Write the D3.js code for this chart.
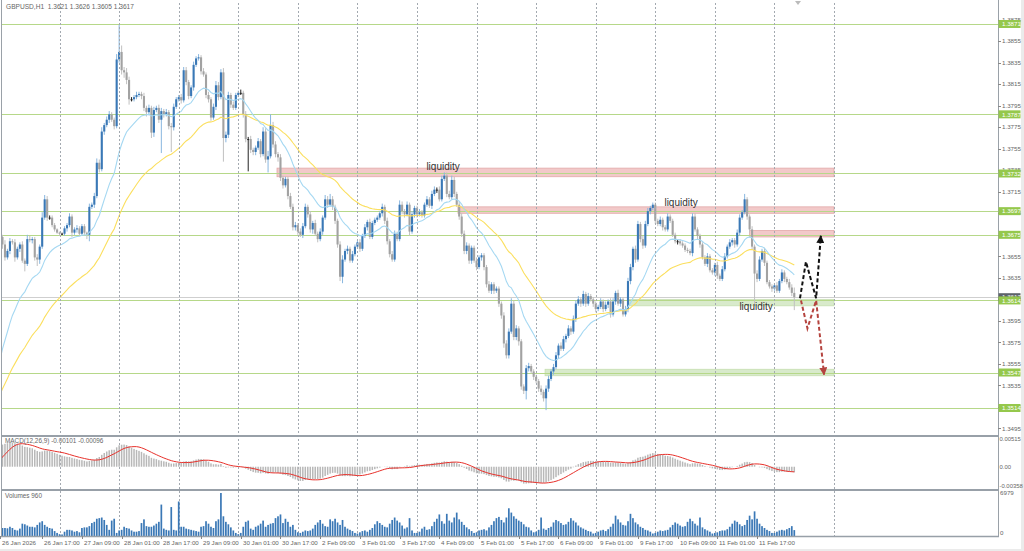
<!DOCTYPE html>
<html><head><meta charset="utf-8">
<script src="https://cdn.jsdelivr.net/npm/d3@7"></script>
<style>html,body{margin:0;padding:0;background:#fff;overflow:hidden}svg{display:block}</style>
</head><body>
<svg id="c" width="1024" height="551"></svg>
<script>
// ---------------- DATA ----------------
const titleText = "GBPUSD,H1  1.3621 1.3626 1.3605 1.3617";
const macdTitle = "MACD(12,26,9) -0.00101 -0.00096";
const volTitle = "Volumes 960";
const firstOpen = 1.3668;
// closes before the visible window (only used to warm up the moving averages / MACD)
const preCloses = [1.3492,1.3488,1.3493,1.3490,1.3487,1.3491,1.3495,1.3493,1.3489,1.3492,1.3496,1.3500,1.3498,1.3494,1.3497,1.3501,1.3499,1.3502,1.3505,1.3502,1.3498,1.3500,1.3503,1.3506,1.3504,1.3501,1.3499,1.3502,1.3505,1.3508,1.3506,1.3503,1.3501,1.3504,1.3507,1.3510,1.3508,1.3505,1.3502,1.3500,1.3498,1.3501,1.3504,1.3502,1.3499,1.3497,1.3500,1.3503,1.3499,1.3496,1.3494,1.3497,1.3495,1.3498,1.3515,1.3540,1.3585,1.3620,1.3645,1.3665];
const closes = [
1.3673,1.3666,1.3654,1.3660,1.3669,1.3668,1.3654,1.3662,1.3666,1.3651,1.3648,1.3671,1.3670,1.3671,1.3654,1.3652,1.3664,1.3691,1.3708,1.3691,1.3691,1.3684,1.3680,1.3677,
1.3676,1.3676,1.3681,1.3684,1.3692,1.3677,1.3680,1.3681,1.3676,1.3683,1.3677,1.3675,1.3701,1.3703,1.3711,1.3742,1.3736,1.3771,1.3777,1.3782,1.3787,1.3782,1.3776,1.3838,
1.3845,1.3828,1.3826,1.3819,1.3801,1.3801,1.3803,1.3805,1.3806,1.3804,1.3793,1.3789,1.3793,1.3770,1.3791,1.3793,1.3782,1.3790,1.3787,1.3789,1.3776,1.3775,1.3794,1.3801,
1.3803,1.3800,1.3828,1.3817,1.3804,1.3812,1.3833,1.3839,1.3840,1.3827,1.3824,1.3805,1.3801,1.3784,1.3794,1.3814,1.3803,1.3826,1.3765,1.3768,1.3805,1.3796,1.3793,1.3805,
1.3807,1.3807,1.3787,1.3764,1.3764,1.3754,1.3752,1.3756,1.3762,1.3750,1.3771,1.3745,1.3748,1.3777,1.3759,1.3750,1.3747,1.3728,1.3721,1.3727,1.3711,1.3701,1.3682,1.3684,
1.3678,1.3675,1.3683,1.3701,1.3694,1.3680,1.3686,1.3676,1.3671,1.3678,1.3691,1.3708,1.3703,1.3708,1.3701,1.3688,1.3666,1.3636,1.3652,1.3660,1.3662,1.3651,1.3657,1.3664,
1.3668,1.3662,1.3674,1.3682,1.3687,1.3673,1.3686,1.3689,1.3691,1.3695,1.3701,1.3688,1.3669,1.3657,1.3652,1.3676,1.3671,1.3703,1.3697,1.3694,1.3703,1.3678,1.3694,1.3700,
1.3694,1.3696,1.3693,1.3703,1.3708,1.3702,1.3713,1.3717,1.3717,1.3708,1.3727,1.3730,1.3713,1.3710,1.3726,1.3713,1.3703,1.3692,1.3676,1.3660,1.3665,1.3651,1.3663,1.3651,
1.3645,1.3654,1.3656,1.3645,1.3629,1.3623,1.3629,1.3623,1.3625,1.3611,1.3600,1.3574,1.3563,1.3585,1.3611,1.3580,1.3588,1.3576,1.3534,1.3530,1.3551,1.3553,1.3548,1.3543,
1.3539,1.3532,1.3529,1.3523,1.3532,1.3541,1.3548,1.3552,1.3563,1.3572,1.3569,1.3578,1.3581,1.3588,1.3585,1.3597,1.3611,1.3615,1.3611,1.3620,1.3611,1.3618,1.3615,1.3611,
1.3606,1.3608,1.3613,1.3606,1.3610,1.3613,1.3601,1.3613,1.3621,1.3611,1.3615,1.3601,1.3606,1.3632,1.3645,1.3662,1.3652,1.3685,1.3671,1.3665,1.3685,1.3697,1.3700,1.3703,
1.3688,1.3685,1.3689,1.3682,1.3680,1.3692,1.3688,1.3675,1.3669,1.3669,1.3667,1.3665,1.3661,1.3660,1.3658,1.3692,1.3680,1.3674,1.3666,1.3654,1.3648,1.3655,1.3642,1.3640,
1.3647,1.3637,1.3634,1.3643,1.3655,1.3664,1.3668,1.3670,1.3666,1.3677,1.3691,1.3696,1.3708,1.3692,1.3680,1.3664,1.3639,1.3634,1.3652,1.3660,1.3649,1.3631,1.3627,1.3625,
1.3628,1.3623,1.3632,1.3640,1.3634,1.3631,1.3626,1.3621,1.3617];
// wick length above / below the body, in pips
const hiExt = [
3,2,4,2,3,2,3,2,2,3,2,4,3,2,2,3,2,5,4,3,2,2,2,1,
1,1,2,2,3,2,2,3,2,2,2,1,3,2,3,4,3,4,2,3,3,2,2,5,
25,6,3,4,3,2,2,3,2,2,3,2,3,2,3,2,3,3,2,3,2,3,3,2,
2,3,3,3,2,2,3,2,3,2,3,2,3,2,3,4,3,3,4,3,3,2,3,2,
2,3,2,3,2,3,2,2,3,2,4,3,5,10,3,3,2,3,2,2,2,3,3,3,
2,3,3,3,2,3,2,3,2,3,2,4,3,5,3,2,2,3,4,2,3,2,3,2,
2,3,2,3,2,3,2,2,2,2,3,2,3,2,3,3,2,4,3,2,3,2,3,2,
2,3,2,2,3,2,3,3,2,3,3,3,3,3,4,3,2,3,3,3,3,2,2,2,
3,2,2,2,2,3,2,2,2,2,2,3,3,3,5,3,3,2,2,2,3,3,2,2,
2,2,3,2,3,3,2,3,3,2,3,3,2,3,2,3,3,3,2,3,2,3,2,2,
2,2,3,2,3,2,3,3,2,3,2,2,3,3,3,2,3,3,2,3,3,3,2,2,
2,2,3,2,2,3,2,2,2,2,2,2,2,2,2,3,3,2,2,2,2,3,2,2,
2,3,2,3,3,2,3,2,2,3,3,2,5,2,2,3,2,3,3,2,3,2,2,2,
2,3,2,3,2,2,3,3,5];
const loExt = [
2,4,3,2,3,2,4,2,3,2,7,2,2,3,3,6,4,2,2,3,2,2,2,1,
2,1,2,3,2,4,2,3,2,2,2,4,6,2,3,2,3,2,3,2,3,2,3,2,
3,4,5,4,5,2,2,2,2,3,3,4,3,5,4,2,3,31,3,2,3,23,3,2,
2,3,2,3,3,2,3,2,2,3,2,3,3,3,2,3,3,2,22,4,3,3,2,2,
2,2,3,3,30,3,3,3,2,3,2,3,12,2,3,3,4,3,3,2,3,2,3,3,
3,2,3,2,3,3,4,2,3,2,3,2,3,2,3,3,3,4,6,2,3,2,2,2,
2,3,2,2,3,2,2,2,2,2,3,3,3,3,2,2,2,2,3,3,2,4,2,3,
3,2,2,2,2,2,3,2,3,2,2,2,3,2,2,3,2,3,3,3,3,3,3,2,
3,2,3,3,3,2,3,3,2,3,3,4,3,3,2,3,3,4,3,3,8,3,2,3,
2,3,3,3,11,3,2,3,2,3,2,2,3,2,3,2,3,2,3,2,3,2,2,3,
3,2,2,3,2,3,3,2,3,2,3,2,2,3,3,3,3,2,3,3,2,2,3,2,
3,2,2,3,2,2,2,2,2,3,2,2,2,2,2,3,2,3,3,2,2,3,2,2,
3,3,2,2,2,2,2,3,3,2,3,2,2,3,3,3,30,3,2,2,3,2,2,3,
2,2,2,2,3,2,2,3,12];
const volumes = [
1300,1300,1300,1250,1500,1300,1000,900,1200,2000,1900,1700,1500,1500,1400,1800,2200,2400,1800,1500,1300,1200,800,500,
300,250,700,1000,1000,900,700,800,600,1300,1400,1400,1600,2100,2300,2800,2900,3000,2600,1800,1000,2500,2800,500,
900,1000,1500,1300,1200,900,700,700,800,2100,2700,1600,1500,1500,1700,2000,2300,5100,1200,1000,900,4700,1000,900,
5600,1500,1500,1200,1100,1000,900,800,700,1500,1600,2400,2000,1500,1300,2400,2700,6979,3200,2300,1900,1400,900,500,
300,500,1500,2300,2500,1200,1000,1500,1700,2000,2500,1500,1800,2000,2100,2900,3200,3500,2100,2800,2300,1500,1800,1000,
600,500,700,900,800,900,1200,1800,2200,2600,2000,1600,1500,2700,2400,2800,2200,1800,2600,1500,1200,1000,800,500,
400,600,800,900,700,1000,1300,1900,2400,2100,1800,1500,1400,2000,2600,3000,2500,2200,1700,1200,1400,2900,900,500,
500,700,1200,1500,1000,1100,1600,2300,2800,3500,2400,2000,3600,2500,2200,3000,3800,2700,2300,1800,1400,1100,800,500,
600,900,1000,1100,900,1400,1800,2400,2900,3100,2600,2200,3000,4500,3800,3200,2800,2500,2300,1900,1500,1400,900,600,
700,1000,3000,1200,1000,1300,1500,2200,2600,2400,2100,1800,1900,2300,2900,2500,2200,1700,1400,1200,1000,800,700,400,
500,700,900,1000,800,1100,1500,2000,3300,2700,2200,1800,1700,2400,3600,2900,2200,1900,1500,1300,1000,900,700,400,
500,700,900,800,900,1000,1400,1800,2200,2000,1700,1500,1600,2300,2800,2400,2000,1700,3000,1400,1100,900,700,400,
500,600,800,900,900,1100,1500,2000,2500,2300,1900,1600,1800,2600,3300,2700,4000,2800,2000,1600,1300,1000,800,500,
500,700,900,1000,900,1100,1300,1600,960];
const priceTicks = [1.3875,1.3855,1.3835,1.3815,1.3795,1.3775,1.3755,1.3735,1.3715,1.3695,1.3675,1.3655,1.3635,1.3615,1.3595,1.3575,1.3555,1.3535,1.3515,1.3495];
const levels = [1.3871,1.3787,1.3732,1.3697,1.3675,1.3614,1.3547,1.3514];
const currentPrice = 1.3617;
const macdTicks = [0.00515, 0, -0.00358];
const volTicks = [6979, 0];
const timeLabels = [[0,"26 Jan 2026"],[17,"26 Jan 17:00"],[33,"27 Jan 09:00"],[49,"28 Jan 01:00"],[65,"28 Jan 17:00"],[81,"29 Jan 09:00"],[97,"30 Jan 01:00"],[113,"30 Jan 17:00"],[129,"2 Feb 09:00"],[145,"3 Feb 01:00"],[161,"3 Feb 17:00"],[177,"4 Feb 09:00"],[193,"5 Feb 01:00"],[209,"5 Feb 17:00"],[225,"6 Feb 09:00"],[241,"9 Feb 01:00"],[257,"9 Feb 17:00"],[273,"10 Feb 09:00"],[289,"11 Feb 01:00"],[305,"11 Feb 17:00"]];
const dayStarts = [24,48,72,96,120,144,168,192,216,240,264,288,312,336];
// zones: [startBar, endBar, lowPrice, highPrice]
const resistZones = [[111.6,336,1.3729,1.3737],[184.5,336,1.3695,1.3701],[302,336,1.3673,1.3679]];
const supportZones = [[253,336,1.3609,1.3615],[219.6,336,1.3544,1.3550]];
const notes = [[178.5,1.37355,"liquidity"],[274.4,1.3702,"liquidity"],[304.6,1.3605,"liquidity"]];
const bullPath = [[322.3,1.3616],[324.7,1.3650],[328.8,1.3616],[330.7,1.3674]];
const bearPath = [[322.7,1.3614],[325.3,1.3588],[328.8,1.3614],[332.0,1.3545]];

// ---------------- LAYOUT ----------------
const svg = d3.select("#c");
const plotR = 998, mainT = 3, mainB = 435, macdT = 437, macdB = 489, volT = 491, volB = 536;
const x = d3.scaleLinear().domain([0, 336]).range([0, 834]);
const y = d3.scaleLinear().domain([1.34889, 1.38905]).range([mainB, mainT]);
const ym = d3.scaleLinear().domain([-0.00358, 0.00515]).range([486, 439]);
const yv = d3.scaleLinear().domain([0, 6979]).range([volB, 493]);
const FONT = "Liberation Sans, Arial, sans-serif";

svg.append("rect").attr("width",1024).attr("height",551).attr("fill","#fff");
svg.append("rect").attr("x",1021).attr("y",0).attr("width",3).attr("height",551).attr("fill","#ebebeb");
svg.append("rect").attr("x",0).attr("y",549).attr("width",1024).attr("height",2).attr("fill","#ebebeb");

const defs = svg.append("defs");
[["cm",mainT,mainB],["cmacd",macdT,macdB],["cvol",volT,volB]].forEach(([id,t,b])=>{
  defs.append("clipPath").attr("id",id).append("rect").attr("x",1).attr("y",t).attr("width",plotR-1).attr("height",b-t);
});

// computed series
const N = closes.length, P = preCloses.length;
const bars = closes.map((c,i)=>{
  const o = i ? closes[i-1] : firstOpen;
  return {i,o,c,h:Math.max(o,c)+hiExt[i]*1e-4,l:Math.min(o,c)-loExt[i]*1e-4,v:volumes[i]};
});
const all = preCloses.concat(closes);
function ema(arr,n){const a=2/(n+1);let e=arr[0];return arr.map((v,i)=>(e=i?a*v+(1-a)*e:v));}
const e12 = ema(all,12), e26 = ema(all,26);
const macdAll = all.map((v,i)=>e12[i]-e26[i]);
const sigAll = macdAll.map((v,i)=>d3.mean(macdAll.slice(Math.max(0,i-8),i+1)));
const maFast = ema(all,20).slice(P), maSlow = ema(all,50).slice(P);
const macd = macdAll.slice(P), signal = sigAll.slice(P);

// ---------- main panel ----------
const gm = svg.append("g").attr("clip-path","url(#cm)");
resistZones.forEach(z=>gm.append("rect").attr("x",x(z[0])).attr("width",x(z[1])-x(z[0]))
  .attr("y",y(z[3])).attr("height",y(z[2])-y(z[3])).attr("fill","#f2c9c9").attr("stroke","#e3a9a9").attr("stroke-width",0.8));
supportZones.forEach(z=>gm.append("rect").attr("x",x(z[0])).attr("width",x(z[1])-x(z[0]))
  .attr("y",y(z[3])).attr("height",y(z[2])-y(z[3])).attr("fill","#d8eacb").attr("stroke","#c6dfb0").attr("stroke-width",0.8));
svg.append("g").selectAll("line").data(dayStarts).join("line")
  .attr("x1",d=>Math.round(x(d))+0.5).attr("x2",d=>Math.round(x(d))+0.5).attr("y1",mainT).attr("y2",volB)
  .attr("stroke","#a3a9b0").attr("stroke-width",1).attr("stroke-dasharray","2,2");
gm.selectAll(".lv").data(levels).join("line").attr("class","lv")
  .attr("x1",1).attr("x2",plotR).attr("y1",d=>Math.round(y(d))+0.5).attr("y2",d=>Math.round(y(d))+0.5)
  .attr("stroke","#b6d889").attr("stroke-width",1);
gm.append("line").attr("x1",1).attr("x2",plotR).attr("y1",Math.round(y(currentPrice))+0.5).attr("y2",Math.round(y(currentPrice))+0.5)
  .attr("stroke","#cfcfcf").attr("stroke-width",1);
// candles
const bw = 2.1;
const cg = gm.append("g");
cg.selectAll(".wk").data(bars).join("line").attr("class","wk")
  .attr("x1",d=>x(d.i)).attr("x2",d=>x(d.i)).attr("y1",d=>y(d.h)).attr("y2",d=>y(d.l))
  .attr("stroke",d=>Math.abs(d.c-d.o)<1e-9?"#222":(d.c>d.o?"#88b6df":"#c0c0c0")).attr("stroke-width",1);
cg.selectAll(".bd").data(bars).join("rect").attr("class","bd")
  .attr("x",d=>x(d.i)-bw/2).attr("width",bw)
  .attr("y",d=>y(Math.max(d.o,d.c))).attr("height",d=>Math.max(1,Math.abs(y(d.o)-y(d.c))))
  .attr("fill",d=>Math.abs(d.c-d.o)<1e-9?"#222":(d.c>d.o?"#3a78b6":"#a2a2a2"));
// moving averages
const lineGen = arr=>d3.line().x((d,i)=>x(i)).y(d=>y(d))(arr);
gm.append("path").attr("d",lineGen(maSlow)).attr("fill","none").attr("stroke","#fbdf5e").attr("stroke-width",1.1);
gm.append("path").attr("d",lineGen(maFast)).attr("fill","none").attr("stroke","#a5d8f2").attr("stroke-width",1.1);
// notes
gm.selectAll(".nt").data(notes).join("text").attr("class","nt")
  .attr("x",d=>x(d[0])).attr("y",d=>y(d[1])).attr("text-anchor","middle")
  .attr("font-family",FONT).attr("font-size",10).attr("fill","#333").text(d=>d[2]);
// arrows
defs.append("marker").attr("id","ab").attr("viewBox","0 0 10 10").attr("refX",9).attr("refY",5)
  .attr("markerWidth",4).attr("markerHeight",4).attr("orient","auto")
  .append("path").attr("d","M0,0L10,5L0,10z").attr("fill","#111");
defs.append("marker").attr("id","ar").attr("viewBox","0 0 10 10").attr("refX",9).attr("refY",5)
  .attr("markerWidth",4).attr("markerHeight",4).attr("orient","auto")
  .append("path").attr("d","M0,0L10,5L0,10z").attr("fill","#b5443f");
const pl = d3.line().x(d=>x(d[0])).y(d=>y(d[1]));
gm.append("path").attr("d",pl(bearPath)).attr("fill","none").attr("stroke","#b5443f").attr("stroke-width",2).attr("stroke-dasharray","4,2.5").attr("marker-end","url(#ar)");
gm.append("path").attr("d",pl(bullPath)).attr("fill","none").attr("stroke","#111").attr("stroke-width",2).attr("stroke-dasharray","4,2.5").attr("marker-end","url(#ab)");
// title
svg.append("text").attr("x",6).attr("y",9).attr("font-family",FONT).attr("font-size",6.6).attr("fill","#666").attr("xml:space","preserve").text(titleText);
svg.append("path").attr("d",`M${x(321.5)-3},1L${x(321.5)+3},1L${x(321.5)},5Z`).attr("fill","#bbb");

// ---------- MACD panel ----------
const gmc = svg.append("g").attr("clip-path","url(#cmacd)");
gmc.selectAll("rect").data(macd).join("rect")
  .attr("x",(d,i)=>x(i)-0.75).attr("width",1.5)
  .attr("y",d=>Math.min(ym(d),ym(0))).attr("height",d=>Math.abs(ym(d)-ym(0)))
  .attr("fill","#b8b8b8");
gmc.append("path").attr("d",d3.line().x((d,i)=>x(i)).y(d=>ym(d))(signal)).attr("fill","none").attr("stroke","#e8302a").attr("stroke-width",1);
svg.append("text").attr("x",5).attr("y",443).attr("font-family",FONT).attr("font-size",6.4).attr("fill","#666").text(macdTitle);

// ---------- Volume panel ----------
const gv = svg.append("g").attr("clip-path","url(#cvol)");
gv.selectAll("rect").data(bars).join("rect")
  .attr("x",d=>x(d.i)-0.85).attr("width",1.7)
  .attr("y",d=>yv(d.v)).attr("height",d=>yv(0)-yv(d.v)).attr("fill","#3a78b6");
svg.append("text").attr("x",5).attr("y",498).attr("font-family",FONT).attr("font-size",6.4).attr("fill","#666").text(volTitle);

// ---------- frames ----------
svg.append("line").attr("x1",1.5).attr("x2",1.5).attr("y1",0).attr("y2",volB).attr("stroke","#9aa1a8");
svg.append("line").attr("x1",plotR+0.5).attr("x2",plotR+0.5).attr("y1",0).attr("y2",volB+1).attr("stroke","#9aa1a8");
[436,490].forEach(v=>svg.append("line").attr("x1",1).attr("x2",plotR+1).attr("y1",v).attr("y2",v).attr("stroke","#98a0a8").attr("stroke-width",2));
svg.append("line").attr("x1",1).attr("x2",plotR+1).attr("y1",volB+0.5).attr("y2",volB+0.5).attr("stroke","#98a0a8").attr("stroke-width",1.5);

// ---------- right axis ----------
const ax = svg.append("g").attr("font-family",FONT).attr("font-size",6.2);
priceTicks.forEach(p=>{
  const yy = y(p);
  ax.append("line").attr("x1",plotR).attr("x2",plotR+3).attr("y1",Math.round(yy)+0.5).attr("y2",Math.round(yy)+0.5).attr("stroke","#888");
  ax.append("text").attr("x",1002).attr("y",yy+2.2).attr("fill","#666").text(p.toFixed(4));
});
ax.append("rect").attr("x",plotR+0.5).attr("y",y(currentPrice)-4).attr("width",22).attr("height",8).attr("fill","#5d636a");
ax.append("text").attr("x",1002).attr("y",y(currentPrice)+2.2).attr("fill","#fff").text(currentPrice.toFixed(4));
levels.forEach(p=>{
  ax.append("rect").attr("x",plotR+0.5).attr("y",y(p)-4).attr("width",22).attr("height",8).attr("fill","#95c84c");
  ax.append("text").attr("x",1002).attr("y",y(p)+2.2).attr("fill","#fff").text(p.toFixed(4));
});
macdTicks.forEach(v=>{
  ax.append("text").attr("x",999.5).attr("y",ym(v)+2.2).attr("font-size",5.9).attr("fill","#666").text(v===0?"0.00":v.toFixed(5));
});
volTicks.forEach(v=>{
  ax.append("text").attr("x",1000).attr("y",(v===0?533:yv(v))+2.2).attr("fill","#666").text(v);
});

// ---------- time axis ----------
const tx = svg.append("g").attr("font-family",FONT).attr("font-size",6.2);
timeLabels.forEach(([b,t])=>{
  const xx = Math.round(x(b))+0.5;
  tx.append("line").attr("x1",xx).attr("x2",xx).attr("y1",volB).attr("y2",volB+3).attr("stroke","#888");
  tx.append("text").attr("x",xx+1.5).attr("y",545).attr("fill","#666").text(t);
});
</script>
</body></html>
